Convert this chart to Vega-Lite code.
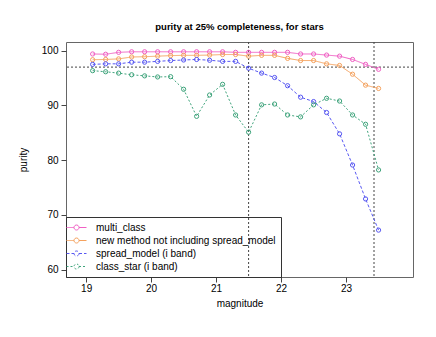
{
  "$schema": "https://vega.github.io/schema/vega-lite/v6.json",
  "width": 347,
  "height": 235,
  "autosize": "none",
  "padding": {"left": 66, "top": 42, "right": 23, "bottom": 60},
  "background": "white",
  "title": {"text": "purity at 25% completeness, for stars", "fontSize": 9.5, "font": "Liberation Sans", "fontWeight": "bold", "color": "black", "offset": 10, "anchor": "middle"},
  "config": {
    "view": {"stroke": "#666", "strokeWidth": 1},
    "axis": {"grid": false, "domain": false, "labelFont": "Liberation Sans", "titleFont": "Liberation Sans", "labelFontSize": 10, "titleFontSize": 10, "titleFontWeight": "normal", "labelColor": "black", "titleColor": "black", "tickColor": "#444", "tickSize": 5},
    "legend": {"labelFont": "Liberation Sans"}
  },
  "datasets": {
    "series": [
      {"m": 19.1, "s": "multi_class", "p": 99.4}, {"m": 19.3, "s": "multi_class", "p": 99.35}, {"m": 19.5, "s": "multi_class", "p": 99.7}, {"m": 19.7, "s": "multi_class", "p": 99.8}, {"m": 19.9, "s": "multi_class", "p": 99.8}, {"m": 20.1, "s": "multi_class", "p": 99.8}, {"m": 20.3, "s": "multi_class", "p": 99.8}, {"m": 20.5, "s": "multi_class", "p": 99.8}, {"m": 20.7, "s": "multi_class", "p": 99.8}, {"m": 20.9, "s": "multi_class", "p": 99.8}, {"m": 21.1, "s": "multi_class", "p": 99.8}, {"m": 21.3, "s": "multi_class", "p": 99.7}, {"m": 21.5, "s": "multi_class", "p": 99.7}, {"m": 21.7, "s": "multi_class", "p": 99.7}, {"m": 21.9, "s": "multi_class", "p": 99.7}, {"m": 22.1, "s": "multi_class", "p": 99.7}, {"m": 22.3, "s": "multi_class", "p": 99.4}, {"m": 22.5, "s": "multi_class", "p": 99.4}, {"m": 22.7, "s": "multi_class", "p": 99.2}, {"m": 22.9, "s": "multi_class", "p": 99.0}, {"m": 23.1, "s": "multi_class", "p": 98.4}, {"m": 23.3, "s": "multi_class", "p": 97.5}, {"m": 23.5, "s": "multi_class", "p": 96.6},
      {"m": 19.1, "s": "new method not including spread_model", "p": 98.35}, {"m": 19.3, "s": "new method not including spread_model", "p": 98.4}, {"m": 19.5, "s": "new method not including spread_model", "p": 98.5}, {"m": 19.7, "s": "new method not including spread_model", "p": 98.85}, {"m": 19.9, "s": "new method not including spread_model", "p": 98.9}, {"m": 20.1, "s": "new method not including spread_model", "p": 99.0}, {"m": 20.3, "s": "new method not including spread_model", "p": 99.1}, {"m": 20.5, "s": "new method not including spread_model", "p": 99.15}, {"m": 20.7, "s": "new method not including spread_model", "p": 99.15}, {"m": 20.9, "s": "new method not including spread_model", "p": 99.2}, {"m": 21.1, "s": "new method not including spread_model", "p": 99.3}, {"m": 21.3, "s": "new method not including spread_model", "p": 99.3}, {"m": 21.5, "s": "new method not including spread_model", "p": 99.0}, {"m": 21.7, "s": "new method not including spread_model", "p": 99.15}, {"m": 21.9, "s": "new method not including spread_model", "p": 99.15}, {"m": 22.1, "s": "new method not including spread_model", "p": 98.6}, {"m": 22.3, "s": "new method not including spread_model", "p": 98.2}, {"m": 22.5, "s": "new method not including spread_model", "p": 98.2}, {"m": 22.7, "s": "new method not including spread_model", "p": 97.6}, {"m": 22.9, "s": "new method not including spread_model", "p": 97.3}, {"m": 23.1, "s": "new method not including spread_model", "p": 95.7}, {"m": 23.3, "s": "new method not including spread_model", "p": 93.7}, {"m": 23.5, "s": "new method not including spread_model", "p": 93.1},
      {"m": 19.1, "s": "spread_model (i band)", "p": 97.5}, {"m": 19.3, "s": "spread_model (i band)", "p": 97.6}, {"m": 19.5, "s": "spread_model (i band)", "p": 97.6}, {"m": 19.7, "s": "spread_model (i band)", "p": 97.9}, {"m": 19.9, "s": "spread_model (i band)", "p": 97.9}, {"m": 20.1, "s": "spread_model (i band)", "p": 98.05}, {"m": 20.3, "s": "spread_model (i band)", "p": 98.2}, {"m": 20.5, "s": "spread_model (i band)", "p": 98.3}, {"m": 20.7, "s": "spread_model (i band)", "p": 98.4}, {"m": 20.9, "s": "spread_model (i band)", "p": 98.25}, {"m": 21.1, "s": "spread_model (i band)", "p": 98.05}, {"m": 21.3, "s": "spread_model (i band)", "p": 98.05}, {"m": 21.5, "s": "spread_model (i band)", "p": 96.8}, {"m": 21.7, "s": "spread_model (i band)", "p": 95.9}, {"m": 21.9, "s": "spread_model (i band)", "p": 95.1}, {"m": 22.1, "s": "spread_model (i band)", "p": 93.6}, {"m": 22.3, "s": "spread_model (i band)", "p": 91.5}, {"m": 22.5, "s": "spread_model (i band)", "p": 90.7}, {"m": 22.7, "s": "spread_model (i band)", "p": 88.7}, {"m": 22.9, "s": "spread_model (i band)", "p": 84.8}, {"m": 23.1, "s": "spread_model (i band)", "p": 79.1}, {"m": 23.3, "s": "spread_model (i band)", "p": 72.9}, {"m": 23.5, "s": "spread_model (i band)", "p": 67.2},
      {"m": 19.1, "s": "class_star (i band)", "p": 96.35}, {"m": 19.3, "s": "class_star (i band)", "p": 96.15}, {"m": 19.5, "s": "class_star (i band)", "p": 95.9}, {"m": 19.7, "s": "class_star (i band)", "p": 95.6}, {"m": 19.9, "s": "class_star (i band)", "p": 95.4}, {"m": 20.1, "s": "class_star (i band)", "p": 95.2}, {"m": 20.3, "s": "class_star (i band)", "p": 95.25}, {"m": 20.5, "s": "class_star (i band)", "p": 92.95}, {"m": 20.7, "s": "class_star (i band)", "p": 88.0}, {"m": 20.9, "s": "class_star (i band)", "p": 91.9}, {"m": 21.1, "s": "class_star (i band)", "p": 93.85}, {"m": 21.3, "s": "class_star (i band)", "p": 88.25}, {"m": 21.5, "s": "class_star (i band)", "p": 85.1}, {"m": 21.7, "s": "class_star (i band)", "p": 90.1}, {"m": 21.9, "s": "class_star (i band)", "p": 90.25}, {"m": 22.1, "s": "class_star (i band)", "p": 88.25}, {"m": 22.3, "s": "class_star (i band)", "p": 87.9}, {"m": 22.5, "s": "class_star (i band)", "p": 90.1}, {"m": 22.7, "s": "class_star (i band)", "p": 91.3}, {"m": 22.9, "s": "class_star (i band)", "p": 90.8}, {"m": 23.1, "s": "class_star (i band)", "p": 88.25}, {"m": 23.3, "s": "class_star (i band)", "p": 86.55}, {"m": 23.5, "s": "class_star (i band)", "p": 78.2}
    ],
    "vlines": [{"v": 21.5}, {"v": 23.43}],
    "hlines": [{"h": 97}]
  },
  "layer": [
    {
      "data": {"name": "hlines"},
      "mark": {"type": "rule", "color": "#444", "strokeDash": [2, 2], "strokeWidth": 1},
      "encoding": {"y": {"field": "h", "type": "quantitative", "scale": {"domain": [58.63, 101.59], "nice": false, "zero": false}}}
    },
    {
      "data": {"name": "vlines"},
      "mark": {"type": "rule", "color": "#444", "strokeDash": [2, 2], "strokeWidth": 1},
      "encoding": {"x": {"field": "v", "type": "quantitative", "scale": {"domain": [18.69, 24.03], "nice": false, "zero": false}}}
    },
    {
      "data": {"name": "series"},
      "mark": {"type": "line", "strokeWidth": 1},
      "encoding": {
        "x": {"field": "m", "type": "quantitative", "title": "magnitude", "scale": {"domain": [18.69, 24.03], "nice": false, "zero": false}, "axis": {"values": [19, 20, 21, 22, 23], "format": "d", "labelPadding": 1, "titlePadding": 5}},
        "y": {"field": "p", "type": "quantitative", "title": "purity", "scale": {"domain": [58.63, 101.59], "nice": false, "zero": false}, "axis": {"values": [60, 70, 80, 90, 100], "format": "d", "labelPadding": 3, "titlePadding": 13}},
        "color": {"field": "s", "type": "nominal", "scale": {"domain": ["multi_class", "new method not including spread_model", "spread_model (i band)", "class_star (i band)"], "range": ["#f060c4", "#f5a25e", "#5858f2", "#3fa47c"]},
          "legend": {"title": null, "orient": "bottom-left", "offset": 0, "strokeColor": "#333", "fillColor": "transparent", "padding": 5, "labelFontSize": 10, "labelColor": "black", "labelLimit": 400, "rowPadding": 2, "symbolSize": 100, "symbolStrokeWidth": 1, "symbolFillColor": "transparent", "labelOffset": 14, "symbolType": "M-2,0H-0.5M0.5,0H2M0.5,0A0.5,0.5,0,1,1,-0.5,0A0.5,0.5,0,1,1,0.5,0"}},
        "strokeDash": {"field": "s", "type": "nominal", "scale": {"domain": ["multi_class", "new method not including spread_model", "spread_model (i band)", "class_star (i band)"], "range": [[1, 0], [1, 0], [3, 2], [2, 2]]}, "legend": {"title": null, "orient": "bottom-left", "offset": 0, "strokeColor": "#333", "fillColor": "transparent", "padding": 5, "labelFontSize": 10, "labelColor": "black", "labelLimit": 400, "rowPadding": 2, "symbolSize": 100, "symbolStrokeWidth": 1, "symbolFillColor": "transparent", "labelOffset": 14, "symbolType": "M-2,0H-0.5M0.5,0H2M0.5,0A0.5,0.5,0,1,1,-0.5,0A0.5,0.5,0,1,1,0.5,0"}}
      }
    },
    {
      "data": {"name": "series"},
      "mark": {"type": "point", "filled": false, "size": 18, "strokeWidth": 1, "opacity": 1},
      "encoding": {
        "x": {"field": "m", "type": "quantitative"},
        "y": {"field": "p", "type": "quantitative"},
        "color": {"field": "s", "type": "nominal"}
      }
    }
  ]
}
